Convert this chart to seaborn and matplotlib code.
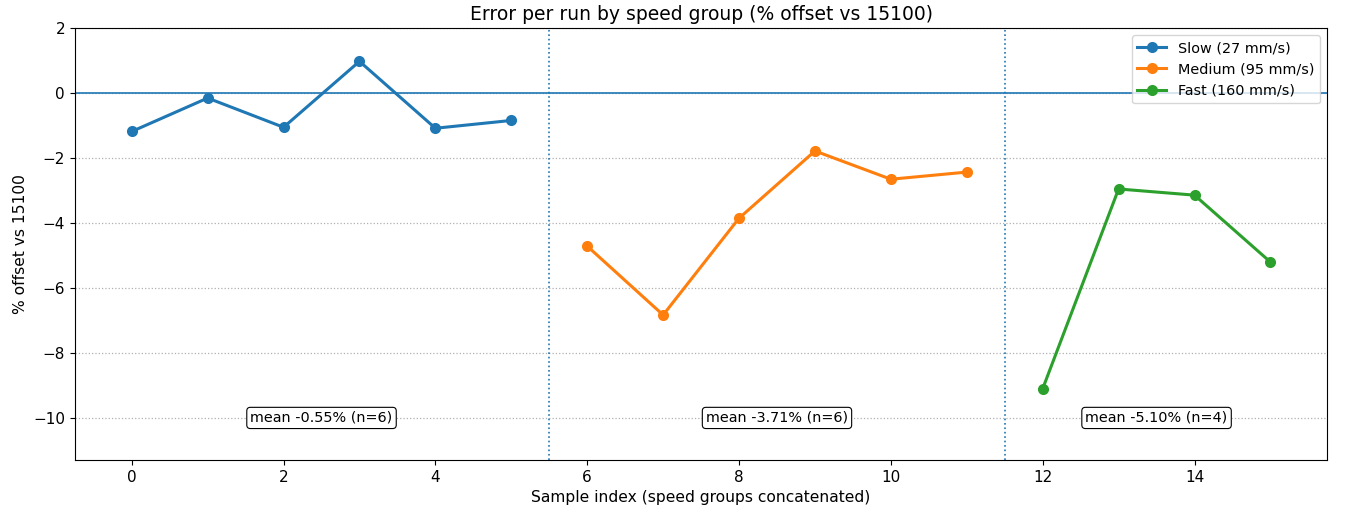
import pandas as pd
import matplotlib.pyplot as plt
import seaborn as sns
import numpy as np

# values (% offset vs 15100)
slow_vals = [-1.18, -0.15, -1.05, 0.98, -1.08, -0.84]
medium_vals = [-4.71, -6.83, -3.85, -1.78, -2.65, -2.43]
fast_vals = [-9.10, -2.95, -3.14, -5.20]
group_names = ["Slow (27 mm/s)", "Medium (95 mm/s)", "Fast (160 mm/s)"]

groups = [slow_vals, medium_vals, fast_vals]
rows = []
idx = 0
for name, vals in zip(group_names, groups):
    for v in vals:
        rows.append({"idx": idx, "offset": v, "group": name})
        idx += 1
df = pd.DataFrame(rows)

fig, ax = plt.subplots(figsize=(13.6, 5.13), dpi=100)
fig.subplots_adjust(left=0.055, right=0.976, top=0.945, bottom=0.103)

sns.lineplot(data=df, x="idx", y="offset", hue="group", hue_order=group_names,
             palette=["#1f77b4", "#ff7f0e", "#2ca02c"], marker="o", markersize=8,
             markeredgewidth=0, linewidth=2.2, ax=ax)

ax.axhline(0, color="#1f77b4", linewidth=1.2, zorder=1)

# group boundaries and mean labels
start = 0
for vals in groups:
    end = start + len(vals)
    if end < len(df):
        ax.axvline(end - 0.5, color="#1f77b4", linestyle=":", linewidth=1.2)
    ax.text((start + end - 1) / 2, -10, f"mean {np.mean(vals):.2f}% (n={len(vals)})",
            ha="center", va="center", fontsize=10.4,
            bbox=dict(boxstyle="round,pad=0.25", fc="white", ec="black", lw=0.8))
    start = end

ax.grid(axis="y", linestyle=":", color="#b0b0b0", linewidth=0.9)
ax.set_axisbelow(True)
ax.set_ylim(-11.3, 2)
ax.set_xticks(range(0, 16, 2))
ax.tick_params(labelsize=11)

ax.set_title("Error per run by speed group (% offset vs 15100)", fontsize=13.5)
ax.set_xlabel("Sample index (speed groups concatenated)", fontsize=11.2)
ax.set_ylabel("% offset vs 15100", fontsize=11.2)
ax.legend(loc="upper right", fontsize=10.4)

plt.savefig("out.png", dpi=100)
